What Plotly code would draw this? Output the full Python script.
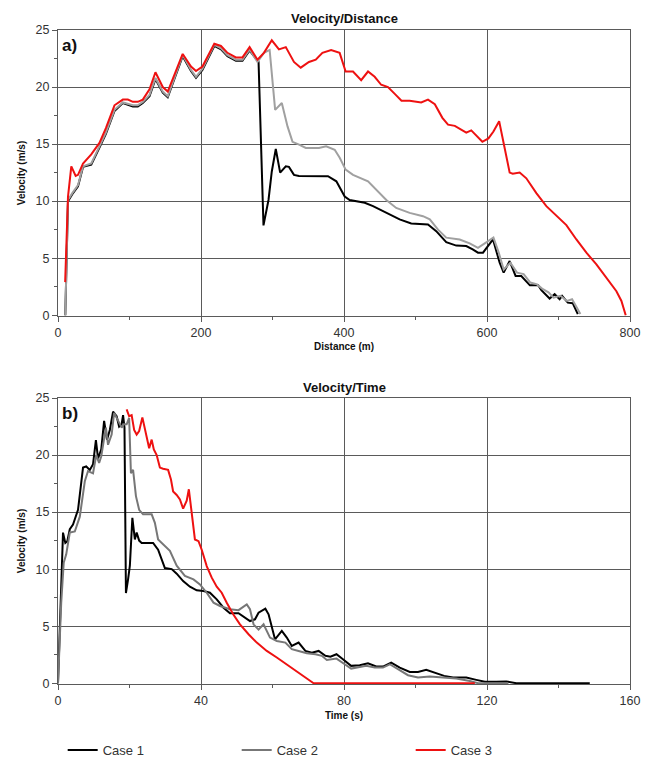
import plotly.graph_objects as go
from plotly.subplots import make_subplots

# ---------------- Data: Velocity / Distance ----------------
case1_dist = [10.2, 14, 20, 28, 35, 46.5, 58, 67, 79, 90.7, 104.7, 111.6, 118.6, 128, 136.3, 146.5, 153.5, 165,
              174.4, 186, 193, 202, 218.6, 228, 237, 248.8, 258, 268, 280.5, 287.4, 294.4, 299, 304.6, 310.7, 318.6,
              323, 330, 337, 365, 377.6, 389.3, 401, 408, 429, 440.6, 459.2, 477.8, 494, 517.5, 529, 543, 557, 571,
              580, 587.4, 594.4, 601.4, 608.4, 617.7, 623.3, 631.7, 640, 648, 660, 671.6, 676, 687.6, 694.6, 701.6,
              705, 713, 720, 727]
case1_vel_d = [0, 10.0, 10.6, 11.3, 13.0, 13.2, 14.7, 15.9, 17.9, 18.6, 18.3, 18.3, 18.6, 19.2, 20.7, 19.5, 19.1,
               21.1, 22.7, 21.4, 20.8, 21.5, 23.6, 23.3, 22.7, 22.3, 22.3, 23.2, 22.2, 7.87, 10.1, 12.6, 14.57, 12.5,
               13.05, 13.0, 12.3, 12.2, 12.2, 12.18, 11.74, 10.4, 10.1, 9.85, 9.56, 8.97, 8.4, 8.04, 7.95, 7.37, 6.4,
               6.1, 6.06, 5.77, 5.48, 5.48, 6.1, 6.64, 4.6, 3.73, 4.75, 3.44, 3.44, 2.62, 2.62, 2.2, 1.46, 1.84, 1.4,
               1.69, 1.1, 1.05, 0.1]

case2_dist = [10.2, 14, 20, 28, 35, 46.5, 58, 67, 79, 90.7, 104.7, 111.6, 118.6, 128, 136.3, 146.5, 153.5, 165,
              174.4, 186, 193, 202, 218.6, 228, 237, 248.8, 258, 268, 279, 288, 296, 303.7, 313, 321, 328, 337.2,
              346.5, 365, 375, 387, 394, 402.3, 412.6, 433.6, 445, 459.2, 473, 491.8, 510.5, 520, 531.5, 543, 561.8,
              575.8, 587.4, 599, 609, 616.4, 623.4, 632.7, 642, 651.3, 660.6, 670, 677, 686, 693, 702.6, 712, 719,
              726, 730.6]
case2_vel_d = [0, 10.1, 10.7, 11.4, 13.05, 13.3, 14.8, 16.0, 18.0, 18.65, 18.4, 18.4, 18.7, 19.3, 20.8, 19.6, 19.2,
               21.2, 22.8, 21.5, 20.9, 21.6, 23.7, 23.4, 22.8, 22.4, 22.4, 23.3, 22.2, 23.0, 23.25, 18.0, 18.6, 16.55,
               15.2, 14.95, 14.66, 14.66, 14.8, 14.5, 13.8, 12.76, 12.3, 11.74, 11.0, 10.1, 9.4, 8.97, 8.68, 8.4, 7.5,
               6.8, 6.64, 6.3, 5.9, 6.4, 6.8, 5.48, 4.0, 4.6, 3.73, 3.6, 2.86, 2.7, 2.33, 2.0, 1.54, 1.7, 1.25, 1.4,
               0.67, 0.1]

case3_dist = [10, 14, 18.6, 24.7, 28, 35, 46.5, 58, 67, 79, 90.7, 97.7, 104.7, 111.6, 118.6, 128, 136.3, 146.5,
              153.5, 165, 174.4, 186, 193, 202, 218.6, 227.9, 237, 248.8, 258, 268, 279, 288, 299, 309, 318.6, 330,
              339.5, 351, 360.5, 369.8, 382, 393.9, 402.3, 412.6, 424, 433.6, 442.9, 452, 461.5, 471, 480.4, 491.8,
              508, 517.5, 527, 537.6, 545.5, 555, 571, 578, 593.5, 602, 609, 617, 624.7, 631.7, 636, 645.7, 655, 669,
              683, 697, 711, 725, 739, 753, 767, 781, 788, 794]
case3_vel_d = [2.9, 10.4, 13.05, 12.2, 12.3, 13.3, 14.1, 15.1, 16.4, 18.4, 18.9, 18.9, 18.7, 18.7, 18.9, 19.8, 21.3,
               20.0, 19.6, 21.5, 22.9, 21.8, 21.4, 21.8, 23.8, 23.6, 23.0, 22.6, 22.6, 23.5, 22.4, 23.0, 24.1, 23.3,
               23.5, 22.2, 21.7, 22.2, 22.4, 23.0, 23.25, 23.0, 21.36, 21.36, 20.6, 21.36, 20.9, 20.2, 20.0, 19.4,
               18.8, 18.8, 18.65, 18.9, 18.5, 17.3, 16.7, 16.6, 16.0, 16.2, 15.2, 15.5, 16.1, 17.0, 14.5, 12.5, 12.4,
               12.5, 12.0, 10.7, 9.56, 8.7, 7.9, 6.64, 5.48, 4.46, 3.3, 2.1, 1.25, 0]

# ---------------- Data: Velocity / Time ----------------
case1_time = [0, 0.75, 1.4, 2.05, 2.6, 3.3, 4.2, 5.6, 7, 7.9, 8.9, 9.8, 10.6, 11.2, 12.1, 12.9, 13.7, 14.5, 15.4,
              16.4, 17.1, 17.8, 18.2, 18.6, 18.8, 19.0, 19.6, 20.1, 20.8, 21.5, 22, 22.7, 23.4, 26.6, 28, 29.9, 31.8,
              33.2, 35, 36.9, 38.8, 40.7, 42.5, 44.4, 46.3, 48.1, 50.5, 52.3, 53.7, 55.1, 56.1, 58, 58.9, 60.1, 60.7,
              62.6, 64, 65.4, 67.3, 69.2, 71, 72.9, 74.8, 76.2, 77.9, 79.7, 82, 84.4, 86.7, 89, 90.9, 93.2, 95.6,
              98.4, 100.7, 103, 105.4, 108, 110.5, 114.2, 117, 119.4, 122.6, 125.4, 128.2, 148.75]
case1_vel_t = [0, 7.06, 13.2, 12.3, 12.45, 13.5, 13.9, 15.2, 18.9, 19.0, 18.7, 19.2, 21.3, 19.7, 20.5, 23.0, 21.35,
               22.2, 23.8, 23.4, 22.5, 22.7, 23.5, 22.4, 11.7, 7.9, 9.1, 10.3, 14.5, 12.6, 13.2, 12.5, 12.3, 12.3,
               11.7, 10.1, 10.0, 9.6, 8.95, 8.46, 8.14, 8.08, 7.93, 7.35, 6.62, 6.13, 6.13, 5.75, 5.45, 5.6, 6.18,
               6.53, 6.04, 4.58, 3.85, 4.58, 4.0, 3.27, 3.56, 2.83, 2.68, 2.83, 2.4, 2.33, 2.54, 2.1, 1.52, 1.58, 1.75,
               1.46, 1.46, 1.8, 1.37, 0.99, 0.99, 1.17, 0.93, 0.64, 0.5, 0.5, 0.29, 0.12, 0.12, 0.15, 0, 0]

case2_time = [0, 0.9, 1.6, 2.3, 3.3, 4.7, 6.1, 7.5, 8.4, 9.8, 10.7, 11.5, 12.1, 13.4, 14, 15, 15.7, 16.8, 17.8,
              18.4, 19.2, 19.9, 20.4, 21, 21.8, 22.7, 23.8, 26.2, 27.1, 28, 29.4, 31.3, 33.2, 35.5, 37.9, 39.7, 41.6,
              43.5, 45.3, 48.1, 50.5, 52.8, 53.7, 54.7, 56.1, 57.5, 59.3, 61.2, 63.6, 65.4, 67.3, 69.6, 72, 73.8,
              75.2, 77.9, 80.2, 82, 86.2, 88.6, 90.9, 92.8, 95.1, 97.9, 100.7, 104, 107.7, 111.4, 115.2, 117.5, 126]
case2_vel_t = [0, 7.06, 10.56, 11.3, 13.2, 13.3, 14.6, 17.7, 18.6, 18.4, 20.0, 19.3, 19.9, 22.4, 20.9, 21.8, 23.7,
               23.0, 22.4, 22.7, 22.7, 23.25, 18.4, 18.7, 16.4, 15.2, 14.8, 14.8, 14.06, 12.6, 12.2, 11.6, 10.3, 9.4,
               9.1, 8.66, 7.93, 7.06, 6.77, 6.48, 6.4, 6.9, 6.48, 5.16, 4.7, 5.16, 4.0, 3.7, 3.56, 2.98, 2.83, 2.63,
               2.54, 2.4, 2.04, 2.16, 1.66, 1.28, 1.52, 1.37, 1.37, 1.66, 1.23, 0.7, 0.5, 0.58, 0.5, 0.41, 0.2, 0, 0]

case3_time = [19.2, 19.9, 20.6, 21.3, 22, 22.7, 23.6, 24.3, 25, 25.5, 26.2, 26.8, 27.6, 28.5, 29.4, 30.8, 31.6,
              32.2, 33.2, 34.1, 35, 36, 36.6, 37.6, 38.3, 39.3, 40.2, 41.6, 43, 44.4, 45.8, 47.2, 49, 50.9, 53.3,
              55.6, 58.4, 61.2, 64, 66.8, 69.2, 71.5, 116.6]
case3_vel_t = [24.0, 23.4, 23.5, 22.2, 21.8, 22.1, 23.3, 22.4, 21.5, 20.6, 21.35, 20.5, 20.0, 18.9, 18.8, 18.7,
               17.85, 16.8, 16.5, 16.1, 15.3, 16.0, 17.0, 14.35, 12.6, 12.45, 11.7, 10.27, 9.25, 8.46, 7.93, 7.06,
               6.04, 5.16, 4.29, 3.56, 2.83, 2.25, 1.66, 1.08, 0.5, 0, 0]

series_names = ["Case 1", "Case 2", "Case 3"]
colors = {"Case 1": "#000000", "Case 2": "#777777", "Case 3": "#ee1111"}
top_gray = "#a0a0a0"

FONT = "Liberation Sans, Arial, sans-serif"
GRID = "#5a5a5a"

fig = make_subplots(rows=2, cols=1, vertical_spacing=0.1254)

# Top panel: black, gray, red (red on top)
fig.add_trace(go.Scatter(x=case1_dist, y=case1_vel_d, mode="lines", name="Case 1", legendgroup="Case 1",
                         line=dict(color=colors["Case 1"], width=2), showlegend=False), row=1, col=1)
fig.add_trace(go.Scatter(x=case2_dist, y=case2_vel_d, mode="lines", name="Case 2", legendgroup="Case 2",
                         line=dict(color=top_gray, width=2), showlegend=False), row=1, col=1)
fig.add_trace(go.Scatter(x=case3_dist, y=case3_vel_d, mode="lines", name="Case 3", legendgroup="Case 3",
                         line=dict(color=colors["Case 3"], width=2), showlegend=False), row=1, col=1)

# Bottom panel
fig.add_trace(go.Scatter(x=case1_time, y=case1_vel_t, mode="lines", name="Case 1", legendgroup="Case 1",
                         line=dict(color=colors["Case 1"], width=2), showlegend=True, legendrank=1), row=2, col=1)
fig.add_trace(go.Scatter(x=case2_time, y=case2_vel_t, mode="lines", name="Case 2", legendgroup="Case 2",
                         line=dict(color=colors["Case 2"], width=2), showlegend=True, legendrank=2), row=2, col=1)
fig.add_trace(go.Scatter(x=case3_time, y=case3_vel_t, mode="lines", name="Case 3", legendgroup="Case 3",
                         line=dict(color=colors["Case 3"], width=2), showlegend=True, legendrank=3), row=2, col=1)

tickfont = dict(family=FONT, size=12.5, color="#333333")
axis_common = dict(showline=True, linecolor=GRID, linewidth=1, mirror=True, showgrid=True, gridcolor=GRID,
                   gridwidth=1, zeroline=False, ticks="outside", ticklen=5, tickcolor=GRID, tickfont=tickfont,
                   automargin=False)

fig.update_xaxes(**axis_common)
fig.update_yaxes(**axis_common)

fig.update_xaxes(range=[0, 800], tickvals=[0, 200, 400, 600, 800],
                 minor=dict(tickvals=[100, 300, 500, 700], ticks="outside", ticklen=3, tickcolor=GRID, showgrid=False),
                 title=dict(text="<b>Distance (m)</b>", font=dict(family=FONT, size=10, color="#111"), standoff=4),
                 row=1, col=1)
fig.update_xaxes(range=[0, 160], tickvals=[0, 40, 80, 120, 160],
                 minor=dict(tickvals=[20, 60, 100, 140], ticks="outside", ticklen=3, tickcolor=GRID, showgrid=False),
                 title=dict(text="<b>Time (s)</b>", font=dict(family=FONT, size=10, color="#111"), standoff=4),
                 row=2, col=1)
for r in (1, 2):
    fig.update_yaxes(range=[-0.07, 25], tickvals=[0, 5, 10, 15, 20, 25],
                     minor=dict(tickvals=[2.5, 7.5, 12.5, 17.5, 22.5], ticks="outside", ticklen=3, tickcolor=GRID,
                                showgrid=False),
                     title=dict(text="<b>Velocity (m/s)</b>", font=dict(family=FONT, size=10, color="#111"),
                                standoff=8),
                     row=r, col=1)

fig.update_layout(
    width=653, height=758,
    margin=dict(l=58, r=23, t=30, b=74),
    paper_bgcolor="white", plot_bgcolor="white",
    font=dict(family=FONT, color="#222"),
    showlegend=True,
    legend=dict(orientation="h", xref="container", yref="container", x=0.096, xanchor="left",
                y=0.0106, yanchor="middle",
                entrywidth=129, entrywidthmode="pixels", traceorder="normal",
                font=dict(family=FONT, size=13, color="#333"), itemwidth=30, bgcolor="rgba(0,0,0,0)"),
    annotations=[
        dict(text="<b>Velocity/Distance</b>", xref="x domain", yref="y domain", x=0.5, y=1.0, yshift=12,
             showarrow=False, font=dict(family=FONT, size=13, color="#111"), yanchor="middle"),
        dict(text="<b>Velocity/Time</b>", xref="x2 domain", yref="y2 domain", x=0.5, y=1.0, yshift=11,
             showarrow=False, font=dict(family=FONT, size=13, color="#111"), yanchor="middle"),
        dict(text="<b>a)</b>", xref="x domain", yref="y domain", x=0.004, y=0.945, xanchor="left",
             yanchor="middle", showarrow=False, font=dict(family=FONT, size=17, color="#111")),
        dict(text="<b>b)</b>", xref="x2 domain", yref="y2 domain", x=0.004, y=0.945, xanchor="left",
             yanchor="middle", showarrow=False, font=dict(family=FONT, size=17, color="#111")),
    ],
)

fig.write_html("out.html", config={"displayModeBar": False},
               post_script="document.body.style.margin='0px';")
